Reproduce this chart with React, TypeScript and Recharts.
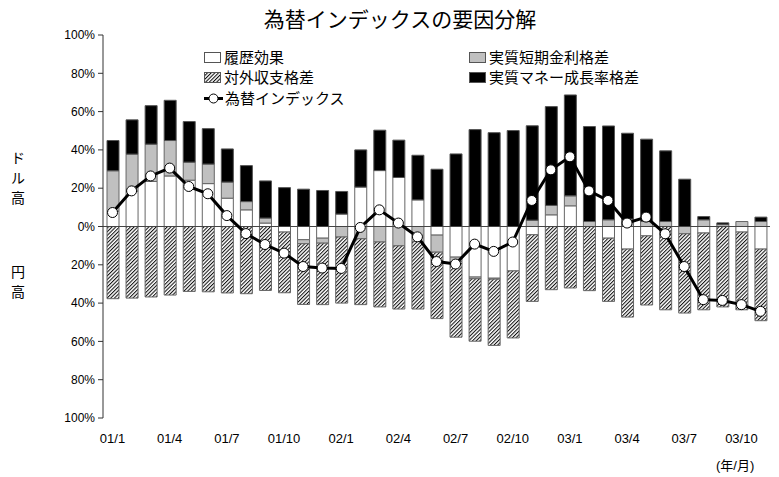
import { Bar, ComposedChart, Line, ReferenceLine, XAxis, YAxis } from "recharts";

// 01/1 .. 03/11, monthly
const months = [
  "01/1", "01/2", "01/3", "01/4", "01/5", "01/6", "01/7", "01/8", "01/9", "01/10", "01/11", "01/12",
  "02/1", "02/2", "02/3", "02/4", "02/5", "02/6", "02/7", "02/8", "02/9", "02/10", "02/11", "02/12",
  "03/1", "03/2", "03/3", "03/4", "03/5", "03/6", "03/7", "03/8", "03/9", "03/10", "03/11",
];

// 履歴効果
const rireki = [
  8, 18.5, 23.5, 26.4, 24.2, 22.4, 14.8, 8.7, 1.8, -2.9, -6.9, -6.1,
  6.5, 20.6, 29.2, 25.6, 13.9, -4.5, -16, -26.4, -27, -23.2, -4.3, 6.1,
  10.8, 0, -6.1, -11.8, -4.9, 0, 0, -3.4, 0, -2.9, -11.8,
];
// 実質短期金利格差
const kinri = [
  21.1, 19.3, 19.5, 18.5, 9.4, 10.2, 8.4, 4.3, 2.6, 0, -2.1, -2.6,
  -5.5, -6.4, -8.1, -10.1, -7.8, -8.9, -2.3, -0.9, -0.5, 0, 3.3, 4.9,
  5.2, 2.6, 3.5, 3.9, 2.6, 2.6, -3.8, 3.5, 1.0, 2.6, 2.6,
];
// 対外収支格差
const taigai = [
  -37.7, -37.4, -36.8, -35.8, -33.9, -34.1, -34.7, -35.1, -33.4, -31.7, -31.7, -32.1,
  -34.5, -34.4, -33.9, -33, -35.3, -34.7, -39.5, -32.6, -34.6, -35, -34.8, -33,
  -32.1, -33.5, -33, -35.5, -36.1, -43.5, -41.4, -40.1, -42, -40.6, -37.4,
];
// 実質マネー成長率格差
const money = [
  15.8, 17.9, 20.1, 21, 21.2, 18.5, 17.3, 18.8, 19.4, 20.3, 19.5, 18.8,
  11.8, 19.4, 21.1, 19.5, 23.3, 29.9, 37.9, 50.6, 49, 50.1, 49.3, 51.6,
  52.7, 49.6, 49, 44.8, 43, 36.9, 24.7, 1.7, 0.9, 0, 2.3,
];
// 為替インデックス
const kawase = [
  7.3, 18.6, 26.4, 30.5, 20.9, 17.1, 5.7, -3.7, -9.4, -13.9, -20.9, -21.7,
  -21.9, -0.5, 8.7, 1.8, -5.4, -18.3, -19.6, -9.2, -13, -8.1, 13.6, 29.6,
  36.4, 18.6, 13.6, 1.8, 4.9, -3.8, -20.9, -38.2, -38.6, -40.8, -44.3,
];

const yTicks = [-100, -80, -60, -40, -20, 0, 20, 40, 60, 80, 100];

const data = months.map((m, i) => ({
  month: m,
  rireki: rireki[i],
  kinri: kinri[i],
  taigai: taigai[i],
  money: money[i],
  kawase: kawase[i],
}));

const font = "'Liberation Sans', 'Noto Sans CJK JP', sans-serif";
const jpFont = "'Noto Sans CJK JP', sans-serif";

function HatchPattern({ id }: { id: string }) {
  return (
    <pattern id={id} width="2.6" height="2.6" patternUnits="userSpaceOnUse" patternTransform="rotate(45)">
      <rect width="2.6" height="2.6" fill="#fff" />
      <line x1="0.5" y1="0" x2="0.5" y2="2.6" stroke="#111" strokeWidth="1.1" />
    </pattern>
  );
}

function Swatch({ fill }: { fill: string }) {
  return (
    <svg width={17} height={11} style={{ marginRight: 3 }}>
      <defs>
        <HatchPattern id="hatchLeg" />
      </defs>
      <rect x={0.5} y={0.5} width={16} height={10} fill={fill} stroke="#555" />
    </svg>
  );
}

function LegendItem({ x, y, icon, label }: { x: number; y: number; icon: React.ReactNode; label: string }) {
  return (
    <div style={{ position: "absolute", left: x, top: y, display: "flex", alignItems: "center", fontFamily: jpFont, fontSize: 15, lineHeight: "18px", height: 18, whiteSpace: "nowrap" }}>
      {icon}
      {label}
    </div>
  );
}

export default function App() {
  return (
    <div style={{ position: "relative", width: 779, height: 477, background: "#fff" }}>
      <style>{"body{margin:0}"}</style>
      <div style={{ position: "absolute", left: 0, width: 800, top: 4, textAlign: "center", fontFamily: jpFont, fontSize: 21, lineHeight: "28px" }}>
        為替インデックスの要因分解
      </div>
      <ComposedChart
        width={779}
        height={477}
        data={data}
        stackOffset="sign"
        margin={{ top: 35, right: 9, left: 43, bottom: 29 }}
      >
        <defs>
          <HatchPattern id="hatch" />
        </defs>
        <XAxis
          dataKey="month"
          interval={2}
          tickLine={false}
          axisLine={false}
          height={30}
          tickMargin={10}
          tick={{ fontSize: 13, fill: "#000", fontFamily: font }}
        />
        <YAxis
          domain={[-100, 100]}
          ticks={yTicks}
          width={60}
          tickFormatter={(v: number) => Math.abs(v) + "%"}
          axisLine={{ stroke: "#333" }}
          tickLine={{ stroke: "#333" }}
          tickSize={5}
          tickMargin={3}
          tick={{ fontSize: 12, fill: "#000", fontFamily: font }}
        />
        <Bar dataKey="rireki" stackId="a" fill="#fff" stroke="#666" barSize={12} isAnimationActive={false} />
        <Bar dataKey="kinri" stackId="a" fill="#c0c0c0" stroke="#666" barSize={12} isAnimationActive={false} />
        <Bar dataKey="taigai" stackId="a" fill="url(#hatch)" stroke="#666" barSize={12} isAnimationActive={false} />
        <Bar dataKey="money" stackId="a" fill="#000" stroke="#555" barSize={12} isAnimationActive={false} />
        <ReferenceLine y={0} stroke="#444" />
        <Line
          dataKey="kawase"
          stroke="#000"
          strokeWidth={3}
          dot={{ r: 5, fill: "#fff", stroke: "#000", strokeWidth: 1 }}
          isAnimationActive={false}
        />
      </ComposedChart>

      <LegendItem x={204} y={48} icon={<Swatch fill="#fff" />} label="履歴効果" />
      <LegendItem x={469} y={48} icon={<Swatch fill="#c0c0c0" />} label="実質短期金利格差" />
      <LegendItem x={204} y={68} icon={<Swatch fill="url(#hatchLeg)" />} label="対外収支格差" />
      <LegendItem x={469} y={68} icon={<Swatch fill="#000" />} label="実質マネー成長率格差" />
      <LegendItem
        x={204}
        y={89}
        icon={
          <svg width={19} height={11} style={{ marginRight: 2 }}>
            <line x1={0} y1={5.5} x2={19} y2={5.5} stroke="#000" strokeWidth={3} />
            <circle cx={9.5} cy={5.5} r={4.5} fill="#fff" stroke="#000" strokeWidth={1} />
          </svg>
        }
        label="為替インデックス"
      />

      <div style={{ position: "absolute", left: 11, top: 147, fontFamily: jpFont, fontSize: 14, lineHeight: "20px" }}>
        ド<br />ル<br />高
      </div>
      <div style={{ position: "absolute", left: 11, top: 261, fontFamily: jpFont, fontSize: 14, lineHeight: "20px" }}>
        円<br />高
      </div>
      <div style={{ position: "absolute", left: 716, top: 456, fontFamily: font, fontSize: 13, lineHeight: "20px" }}>
        (年/月)
      </div>
    </div>
  );
}
